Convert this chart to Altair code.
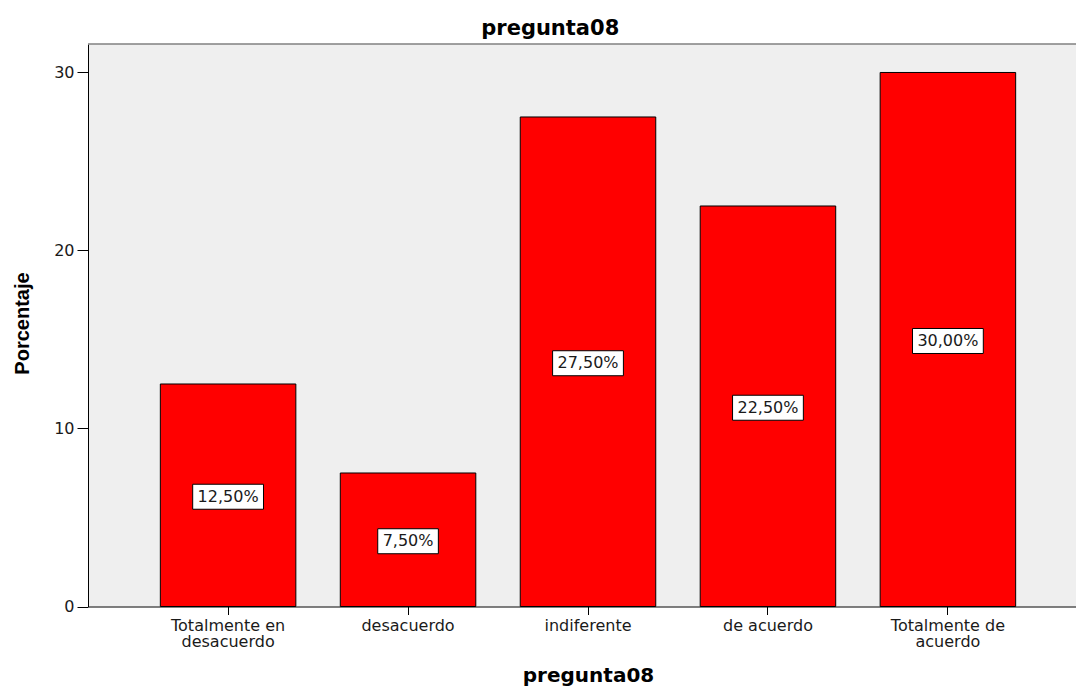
import altair as alt
import pandas as pd

# Response categories and their share of answers (%)
categories = [
    "Totalmente en\ndesacuerdo",
    "desacuerdo",
    "indiferente",
    "de acuerdo",
    "Totalmente de\nacuerdo",
]
percentages = [12.5, 7.5, 27.5, 22.5, 30.0]
y_ticks = [0, 10, 20, 30]

df = pd.DataFrame({"categoria": categories, "porcentaje": percentages})

FONT = "DejaVu Sans"
TEXT_COLOR = "#1a1a1a"

x_scale = alt.Scale(domain=categories, range=[0, 1000],
                    paddingInner=0.247, paddingOuter=0.402)
y_scale = alt.Scale(domain=[0, 31.6], nice=False, zero=True)

x_axis = alt.Axis(
    title="pregunta08",
    labelAngle=0,
    labelExpr="split(datum.label, '\\n')",
    labelFont=FONT, labelFontSize=16, labelColor=TEXT_COLOR,
    labelLineHeight=16, labelPadding=3, labelOverlap=False,
    tickSize=8, tickColor="black", domainColor="black",
    titleFont=FONT, titleFontSize=20, titleFontWeight="bold", titleColor="black",
    titleY=74.5, titleBaseline="alphabetic",
)
y_axis = alt.Axis(
    title="Porcentaje",
    values=y_ticks, grid=False,
    labelFont=FONT, labelFontSize=16, labelColor=TEXT_COLOR, labelPadding=3,
    tickSize=11, tickColor="black", domainColor="black",
    titleFont="Liberation Sans", titleFontSize=20, titleFontWeight="bold",
    titleColor="black", titleAngle=270, titleAlign="center",
    titleBaseline="alphabetic", titleX=-59.5, titleY=279,
)

base = alt.Chart(df)

bars = base.mark_bar(color="#ff0000", stroke="black", strokeWidth=1).encode(
    x=alt.X("categoria:N", scale=x_scale, sort=categories, axis=x_axis),
    y=alt.Y("porcentaje:Q", scale=y_scale, axis=y_axis),
)

labelled = base.transform_calculate(
    mitad="datum.porcentaje / 2",
    etiqueta="replace(format(datum.porcentaje, '.2f'), '.', ',') + '%'",
).transform_calculate(
    ancho="(length(datum.etiqueta) - 2) * 10.2 + 30",
)

boxes = labelled.mark_bar(
    color="white", stroke="black", strokeWidth=1, yOffset=-11, y2Offset=14
).encode(
    x=alt.X("categoria:N", scale=x_scale, sort=categories),
    y=alt.Y("mitad:Q", scale=y_scale),
    y2=alt.Y2("mitad:Q"),
    size=alt.Size("ancho:Q", scale=None, legend=None),
)

texts = labelled.mark_text(
    font=FONT, fontSize=16, color=TEXT_COLOR, baseline="middle", align="center",
    dy=1.5,
).encode(
    x=alt.X("categoria:N", scale=x_scale, sort=categories),
    y=alt.Y("mitad:Q", scale=y_scale),
    text="etiqueta:N",
)

# Upper frame line of the plot area
top_line = base.transform_aggregate(n="count()").mark_rule(
    color="#808080", strokeWidth=1.5
).encode(x=alt.value(0), x2=alt.value(988), y=alt.value(0))

chart = alt.layer(bars, boxes, texts, top_line).properties(
    width=988,
    height=562.5,
    autosize=alt.AutoSizeParams(type="none"),
    padding={"left": 88, "top": 44, "right": 0, "bottom": 79.5},
    background="white",
    title=alt.TitleParams(
        "pregunta08", font=FONT, fontSize=21, fontWeight="bold", color="black",
        anchor="middle", frame="bounds", offset=10, baseline="alphabetic",
        dy=23,
    ),
).configure_view(fill="#efefef", strokeWidth=0)

chart.save("out.html", embed_options={"renderer": "svg", "actions": False})
